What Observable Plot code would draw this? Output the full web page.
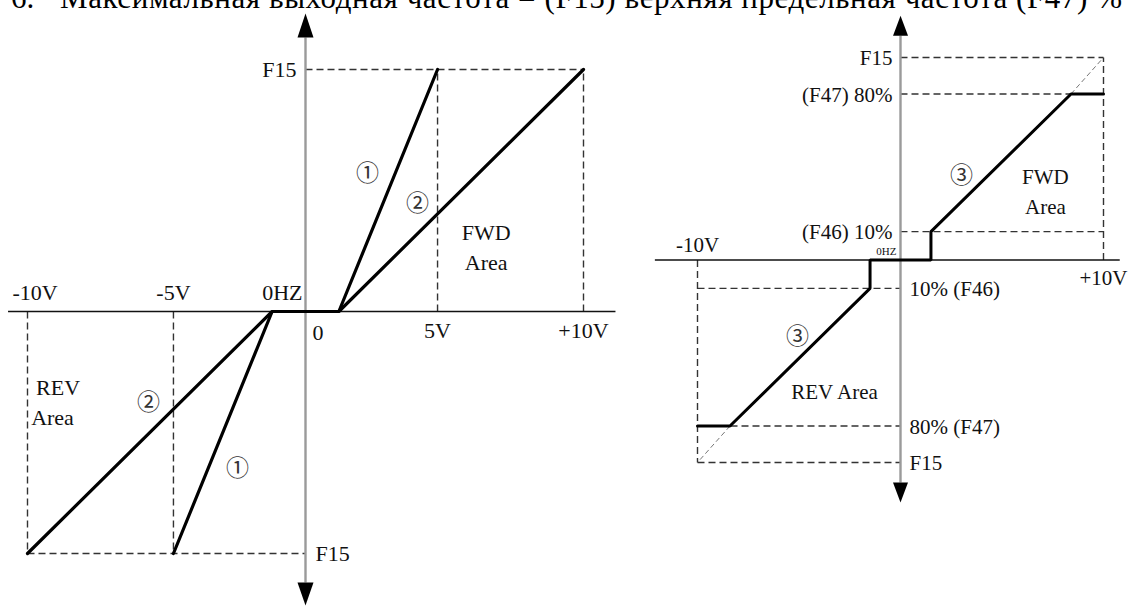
<!DOCTYPE html>
<html><head><meta charset="utf-8">
<script src="https://cdn.jsdelivr.net/npm/d3@7"></script>
<script src="https://cdn.jsdelivr.net/npm/@observablehq/plot@0.6"></script>
<style>
html,body{margin:0;padding:0;background:#fff;}
#wrap{position:relative;width:1134px;height:606px;overflow:hidden;background:#fff;}
#title{position:absolute;left:0;top:0;}
#left,#right{position:absolute;top:0;}
#left{left:0;}
#right{left:640px;}
</style></head><body>
<div id="wrap">
<div id="left"></div><div id="right"></div>
<svg id="title" width="1134" height="20">
  <text x="11" y="8" font-family="Liberation Serif" font-size="31" fill="#000">6.</text>
  <text x="60" y="8" font-family="Liberation Serif" font-size="31" fill="#000" textLength="1062" lengthAdjust="spacing">Максимальная выходная частота = (F15) верхняя предельная частота (F47) %</text>
</svg>
</div>
<script>
// ---------- LEFT DIAGRAM DATA (volts vs % of F15) ----------
const leftTickV = [-10, -4.75, 4.75, 10];
const leftTickLabels = ["-10V", "-5V", "5V", "+10V"];
const leftF15 = 100;
const curve1V = [-4.75, -1.2, 1.2, 4.75];
const curve1F = [-100, 0, 0, 100];
const curve2V = [-10, -1.2, 1.2, 10];
const curve2F = [-100, 0, 0, 100];
const leftMarkNames = ["①", "②", "②", "①"];
const leftMarkV = [2.23, 4.03, -5.65, -2.45];
const leftMarkF = [57, 44.6, -37.6, -64.9];
const leftAreaText = ["FWD", "Area", "REV", "Area"];
const leftAreaV = [6.5, 6.5, -8.9, -9.1];
const leftAreaF = [32.6, 20.2, -31.4, -43.8];
const leftAxisV = [-10.7, 11.15];
const leftAxisF = [113.2, -112];

// ---------- RIGHT DIAGRAM DATA ----------
const rightLevels = [100, 82, 14];
const rightLevelLabelsPos = ["F15", "(F47) 80%", "(F46) 10%"];
const rightLevelLabelsNeg = ["F15", "80% (F47)", "10% (F46)"];
const curve3V = [-10, -8.4, -1.5, -1.5, 1.5, 1.5, 8.4, 10];
const curve3F = [-82, -82, -14, 0, 0, 14, 82, 82];
const rightMarkV = [3.0, -5.07];
const rightMarkF = [41.9, -37.9];
const rightAreaText = ["FWD", "Area", "REV Area"];
const rightAreaV = [7.14, 7.14, -3.25];
const rightAreaF = [40.9, 26.1, -65.5];
const rightAxisV = [-12.1, 10.8];
const rightAxisF = [110.8, -109.9];

const zip = (xs, ys) => xs.map((x, i) => ({x, y: ys[i]}));
const FONT = "Liberation Serif";
const dash = {stroke: "#333", strokeWidth: 1.4, strokeDasharray: "7,4"};
const lbl = {fontFamily: FONT, fontSize: 21, fill: "#111", letterSpacing: 1};
const lblL = {fontFamily: FONT, fontSize: 22, fill: "#111", letterSpacing: 1.5};
const circ = {fontFamily: "Noto Sans CJK SC", fontSize: 23, fill: "#333"};
const ticks = leftTickV.map((v, i) => ({x: v, t: leftTickLabels[i]}));

// guides left
const leftGuides = [
  ...leftTickV.map(v => ({x1: v, y1: 0, x2: v, y2: Math.sign(v) * leftF15})),
  {x1: 0, y1: leftF15, x2: 10, y2: leftF15},
  {x1: -10, y1: -leftF15, x2: 0, y2: -leftF15}
];

const leftPlot = Plot.plot({
  width: 640, height: 606,
  marginLeft: 27, marginRight: 57, marginTop: 69, marginBottom: 53,
  x: {domain: [-10, 10], axis: null},
  y: {domain: [-100, 100], axis: null},
  style: {background: "transparent", overflow: "visible"},
  marks: [
    Plot.link(leftGuides, {x1: "x1", y1: "y1", x2: "x2", y2: "y2", ...dash}),
    Plot.link([{a: 0}], {x1: leftAxisV[0], x2: leftAxisV[1], y1: 0, y2: 0, stroke: "#111", strokeWidth: 1.6}),
    Plot.link([{a: 0}], {x1: 0, x2: 0, y1: leftAxisF[0], y2: leftAxisF[1], stroke: "#9a9a9a", strokeWidth: 2.4}),
    Plot.vector([{x: 0, y: leftAxisF[0]}], {x: "x", y: "y", length: 24, r: 8, rotate: 0, anchor: "start", shape: "spike", fill: "#000", stroke: "none"}),
    Plot.vector([{x: 0, y: leftAxisF[1]}], {x: "x", y: "y", length: 23, r: 8, rotate: 180, anchor: "start", shape: "spike", fill: "#000", stroke: "none"}),
    Plot.line(zip(curve1V, curve1F), {x: "x", y: "y", stroke: "#000", strokeWidth: 3.2, strokeLinejoin: "miter"}),
    Plot.line(zip(curve2V, curve2F), {x: "x", y: "y", stroke: "#000", strokeWidth: 3.2, strokeLinejoin: "miter"}),
    Plot.text(ticks.slice(0, 1), {x: "x", y: 0, text: "t", textAnchor: "start", dx: -15, dy: -19, ...lblL}),
    Plot.text(ticks.slice(1, 2), {x: "x", y: 0, text: "t", dy: -19, ...lblL}),
    Plot.text(ticks.slice(2), {x: "x", y: 0, text: "t", dy: 19, ...lblL}),
    Plot.text(["0HZ"], {x: 0, y: 0, text: d => d, textAnchor: "end", dx: -3, dy: -19, ...lblL}),
    Plot.text(["0"], {x: 0, y: 0, text: d => d, textAnchor: "start", dx: 7, dy: 21, ...lblL}),
    Plot.text(["F15"], {x: 0, y: leftF15, text: d => d, textAnchor: "end", dx: -9, ...lblL}),
    Plot.text(["F15"], {x: 0, y: -leftF15, text: d => d, textAnchor: "start", dx: 10, ...lblL}),
    Plot.text(leftAreaText.map((t, i) => ({t, x: leftAreaV[i], y: leftAreaF[i]})), {x: "x", y: "y", text: "t", ...lblL, letterSpacing: 2}),
    Plot.text(leftMarkNames.map((t, i) => ({t, x: leftMarkV[i], y: leftMarkF[i]})), {x: "x", y: "y", text: "t", ...circ})
  ]
});
document.getElementById("left").append(leftPlot);

// guides right
const rightGuides = [
  ...rightLevels.map(L => ({x1: 0, y1: L, x2: 10, y2: L})),
  ...rightLevels.map(L => ({x1: -10, y1: -L, x2: 0, y2: -L})),
  {x1: 10, y1: 0, x2: 10, y2: rightLevels[0]},
  {x1: -10, y1: 0, x2: -10, y2: -rightLevels[0]}
];
const rightDiag = [
  {x1: curve3V[6], y1: curve3F[6], x2: 10, y2: rightLevels[0]},
  {x1: curve3V[1], y1: curve3F[1], x2: -10, y2: -rightLevels[0]}
];

const rightPlot = Plot.plot({
  width: 494, height: 606,
  marginLeft: 57, marginRight: 31, marginTop: 57, marginBottom: 144,
  x: {domain: [-10, 10], axis: null},
  y: {domain: [-100, 100], axis: null},
  style: {background: "transparent", overflow: "visible"},
  marks: [
    Plot.link(rightGuides, {x1: "x1", y1: "y1", x2: "x2", y2: "y2", ...dash}),
    Plot.link(rightDiag, {x1: "x1", y1: "y1", x2: "x2", y2: "y2", stroke: "#777", strokeWidth: 1, strokeDasharray: "5,3"}),
    Plot.link([{a: 0}], {x1: rightAxisV[0], x2: rightAxisV[1], y1: 0, y2: 0, stroke: "#111", strokeWidth: 1.6}),
    Plot.link([{a: 0}], {x1: 0, x2: 0, y1: rightAxisF[0], y2: rightAxisF[1], stroke: "#9a9a9a", strokeWidth: 2.4}),
    Plot.vector([{x: 0, y: rightAxisF[0]}], {x: "x", y: "y", length: 20, r: 7.5, rotate: 0, anchor: "start", shape: "spike", fill: "#000", stroke: "none"}),
    Plot.vector([{x: 0, y: rightAxisF[1]}], {x: "x", y: "y", length: 20, r: 7.5, rotate: 180, anchor: "start", shape: "spike", fill: "#000", stroke: "none"}),
    Plot.line(zip(curve3V, curve3F), {x: "x", y: "y", stroke: "#000", strokeWidth: 3, strokeLinejoin: "miter"}),
    Plot.text(rightLevels.map((L, i) => ({y: L, t: rightLevelLabelsPos[i]})), {x: 0, y: "y", text: "t", textAnchor: "end", dx: -8, dy: 1, ...lbl, letterSpacing: 0}),
    Plot.text(rightLevels.map((L, i) => ({y: -L, t: rightLevelLabelsNeg[i]})), {x: 0, y: "y", text: "t", textAnchor: "start", dx: 9, dy: 1, ...lbl, letterSpacing: 0}),
    Plot.text(["0HZ"], {x: 0, y: 0, text: d => d, textAnchor: "end", dx: -4, dy: -9, fontFamily: FONT, fontSize: 11, fill: "#111"}),
    Plot.text(["-10V"], {x: -10, y: 0, text: d => d, dy: -15, ...lbl, letterSpacing: 0}),
    Plot.text(["+10V"], {x: 10, y: 0, text: d => d, dy: 18, ...lbl, letterSpacing: 0}),
    Plot.text(rightAreaText.map((t, i) => ({t, x: rightAreaV[i], y: rightAreaF[i]})), {x: "x", y: "y", text: "t", ...lbl, letterSpacing: 2}),
    Plot.text(rightMarkV.map((v, i) => ({t: "③", x: v, y: rightMarkF[i]})), {x: "x", y: "y", text: "t", ...circ})
  ]
});
document.getElementById("right").append(rightPlot);
</script>
</body></html>
